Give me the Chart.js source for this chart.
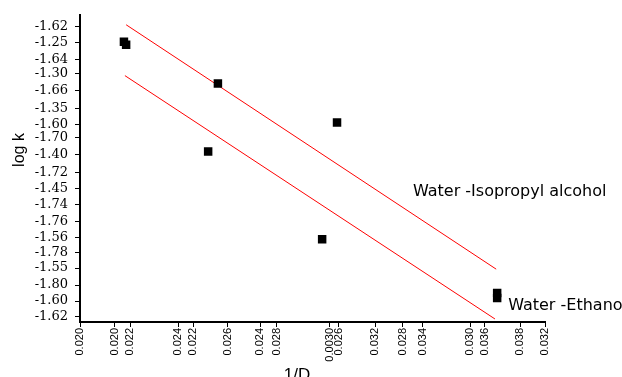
<!DOCTYPE html>
<html>
<head>
<meta charset="utf-8">
<script src="https://cdn.jsdelivr.net/npm/chart.js@4.4.1/dist/chart.umd.min.js"></script>
<style>
  html, body { margin: 0; padding: 0; background: #fff; }
</style>
</head>
<body>
<canvas id="chart" width="622" height="377"></canvas>
<script>
// measured points (1/D, log k)
const isoX = [0.02180, 0.02565, 0.03053, 0.03709];
const isoY = [-1.2486, -1.3054, -1.3581, -1.5892];
const ethX = [0.02189, 0.02525, 0.02992, 0.03709];
const ethY = [-1.2527, -1.3973, -1.5162, -1.5959];

// regression lines, end points
const isoLineX = [0.02189, 0.03705];
const isoLineY = [-1.2257, -1.5568];
const ethLineX = [0.02184, 0.03700];
const ethLineY = [-1.2946, -1.6243];

// the original figure has two overlaid sets of tick labels on each axis,
// printed as they appear there
const xTickAt = [0.02000, 0.02143, 0.02205, 0.02402, 0.02463, 0.02606, 0.02738, 0.02807,
  0.03024, 0.03061, 0.03209, 0.03323, 0.03405, 0.03598, 0.03659, 0.03803, 0.03905];
const xTickLabels = ['0.020', '0.020', '0.022', '0.024', '0.022', '0.026', '0.024', '0.028',
  '0.0030', '0.026', '0.032', '0.028', '0.034', '0.030', '0.036', '0.038', '0.032'];

const yTickAt = [-1.2284, -1.2500, -1.2730, -1.2919, -1.3149, -1.3392, -1.3608, -1.3784,
  -1.4014, -1.4257, -1.4473, -1.4689, -1.4919, -1.5135, -1.5338, -1.5554, -1.5784, -1.6000, -1.6216];
const yTickLabels = ['-1.62', '-1.25', '-1.64', '-1.30', '-1.66', '-1.35', '-1.60', '-1.70',
  '-1.40', '-1.72', '-1.45', '-1.74', '-1.76', '-1.56', '-1.78', '-1.55', '-1.80', '-1.60', '-1.62'];

const xMin = 0.020, xMax = 0.03905;
const yMin = -1.6284, yMax = -1.2122;

function toPoints(xs, ys) {
  return xs.map((v, i) => ({ x: v, y: ys[i] }));
}

// series names and axis titles
const textLabels = {
  id: 'textLabels',
  afterDraw(chart) {
    const { ctx, scales: { x, y } } = chart;
    ctx.save();
    ctx.fillStyle = '#000';
    ctx.textBaseline = 'alphabetic';
    ctx.textAlign = 'left';
    ctx.font = '16px "DejaVu Sans"';
    ctx.fillText('Water -Isopropyl alcohol', x.getPixelForValue(0.03364), y.getPixelForValue(-1.4581));
    ctx.fillText('Water -Ethanol', x.getPixelForValue(0.03754), y.getPixelForValue(-1.6122));

    ctx.font = '17px "Liberation Sans"';
    ctx.textAlign = 'center';
    ctx.fillText('1/D', 297, 380);

    ctx.translate(20, 150);
    ctx.rotate(-Math.PI / 2);
    ctx.font = '16px "Liberation Sans"';
    ctx.textBaseline = 'middle';
    ctx.fillText('log k', 0, 0);
    ctx.restore();
  }
};

const ctx = document.getElementById('chart').getContext('2d');
new Chart(ctx, {
  type: 'scatter',
  data: {
    datasets: [
      {
        label: 'Water -Isopropyl alcohol',
        data: toPoints(isoX, isoY),
        pointStyle: 'rect',
        pointRadius: 6,
        borderWidth: 0,
        backgroundColor: '#000'
      },
      {
        label: 'Water -Ethanol',
        data: toPoints(ethX, ethY),
        pointStyle: 'rect',
        pointRadius: 6,
        borderWidth: 0,
        backgroundColor: '#000'
      },
      {
        label: 'fit isopropyl',
        data: toPoints(isoLineX, isoLineY),
        showLine: true,
        pointRadius: 0,
        borderColor: '#ff0000',
        borderWidth: 1
      },
      {
        label: 'fit ethanol',
        data: toPoints(ethLineX, ethLineY),
        showLine: true,
        pointRadius: 0,
        borderColor: '#ff0000',
        borderWidth: 1
      }
    ]
  },
  options: {
    responsive: false,
    animation: false,
    layout: { padding: { top: 14, right: 77, left: 0, bottom: 0 } },
    plugins: {
      legend: { display: false },
      tooltip: { enabled: false }
    },
    scales: {
      x: {
        type: 'linear',
        min: xMin,
        max: xMax,
        afterBuildTicks: scale => {
          scale.ticks = xTickAt.map(v => ({ value: v }));
        },
        afterFit: scale => { scale.height = 55; },
        ticks: {
          autoSkip: false,
          minRotation: 90,
          maxRotation: 90,
          padding: 1,
          color: '#000',
          font: { family: 'Liberation Sans', size: 11 },
          callback: (value, index) => xTickLabels[index]
        },
        grid: { drawOnChartArea: false, drawTicks: true, tickLength: 5, color: '#000' },
        border: { color: '#000', width: 2 }
      },
      y: {
        type: 'linear',
        min: yMin,
        max: yMax,
        afterBuildTicks: scale => {
          scale.ticks = yTickAt.map(v => ({ value: v }));
        },
        afterFit: scale => { scale.width = 80; },
        ticks: {
          autoSkip: false,
          padding: 7,
          color: '#000',
          font: { family: 'DejaVu Serif', size: 13 },
          callback: (value, index) => yTickLabels[index]
        },
        grid: { drawOnChartArea: false, drawTicks: true, tickLength: 5, color: '#000' },
        border: { color: '#000', width: 2 }
      }
    }
  },
  plugins: [textLabels]
});
</script>
</body>
</html>
